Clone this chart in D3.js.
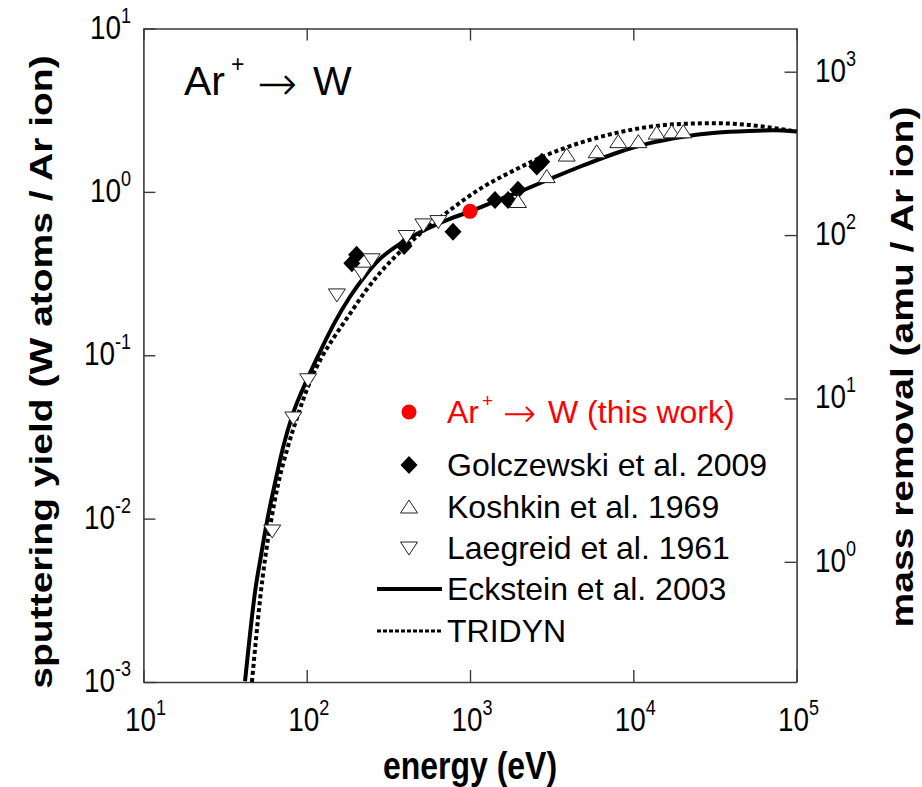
<!DOCTYPE html>
<html>
<head>
<meta charset="utf-8">
<script src="https://cdn.jsdelivr.net/npm/d3@7"></script>
<style>
  body { margin: 0; background: #fff; }
  text { font-family: "Liberation Sans", Arial, Helvetica, sans-serif; }
  .arrow { font-family: "DejaVu Sans", sans-serif; font-weight: 200; }
</style>
</head>
<body>
<svg id="chart" width="922" height="787"></svg>
<script>
// ---- data: Ar+ -> W sputtering yield vs ion energy ----
const thisWorkEnergy = [1000];
const thisWorkYield  = [0.76];

const golczewskiEnergy = [189, 202, 395, 787, 1422, 1710, 1968, 2563, 2750];
const golczewskiYield  = [0.366, 0.412, 0.467, 0.571, 0.893, 0.893, 1.03, 1.43, 1.53];

const koshkinEnergy = [1968, 2950, 3910, 5970, 8090, 10740, 13900, 17180, 20240];
const koshkinYield  = [0.873, 1.24, 1.68, 1.76, 2.03, 2.03, 2.29, 2.33, 2.33];

const laegreidEnergy = [61.5, 82.8, 102, 153, 217, 250, 409, 518, 640];
const laegreidYield  = [0.0084, 0.0413, 0.0708, 0.234, 0.318, 0.384, 0.533, 0.628, 0.658];

const ecksteinEnergy = [41.9, 45.0, 48.3, 52.5, 57.1, 63.1, 71.6, 82.4, 100.4, 120.6, 149.1, 184.1,
  227.5, 281.2, 372.7, 530, 754, 1000, 1527, 1967, 3090, 4920, 7876, 12410, 19760, 31920, 50830, 72300, 100000];
const ecksteinYield  = [0.00101, 0.00198, 0.00358, 0.00594, 0.00959, 0.0155, 0.0272, 0.0439, 0.0709, 0.105,
  0.160, 0.228, 0.306, 0.389, 0.481, 0.586, 0.684, 0.758, 0.900, 0.993, 1.20, 1.45, 1.73, 1.98, 2.17, 2.30, 2.36, 2.38, 2.34];

const tridynEnergy = [46.2, 48.9, 51.8, 55.5, 60.4, 66.7, 75.8, 88.5, 104.8, 124.1, 149.1, 184.1, 227.5,
  281.2, 372.7, 494, 703, 1151, 1834, 2961, 4920, 7876, 12410, 19760, 31920, 50830, 80960, 100000];
const tridynYield  = [0.001, 0.00182, 0.0032, 0.00561, 0.00959, 0.0161, 0.0264, 0.0433, 0.0689, 0.0979,
  0.1316, 0.1794, 0.2445, 0.3196, 0.4295, 0.5535, 0.7333, 1.043, 1.344, 1.684, 2.022, 2.296, 2.498, 2.606,
  2.632, 2.570, 2.418, 2.34];

// tick labels (exponents of ten)
const xTickExponents = ["1", "2", "3", "4", "5"];
const yTickExponents = ["-3", "-2", "-1", "0", "1"];
const y2TickExponents = ["0", "1", "2", "3"];

const tungstenMass = 183.84; // amu per W atom, converts yield to mass removal

// ---- layout ----
const svg = d3.select("#chart");
const plotLeft = 143.4, plotRight = 796.6, plotTop = 28.5, plotBottom = 682;
const squeeze = 0.82; // axis text is set narrow

const x = d3.scaleLog().domain([10, 1e5]).range([plotLeft, plotRight]);
const y = d3.scaleLog().domain([1e-3, 10]).range([plotBottom, plotTop]);
const y2 = d3.scaleLog().domain([1e-3 * tungstenMass, 10 * tungstenMass]).range([plotBottom, plotTop]);

const zip = (es, ys) => es.map((e, i) => ({ e, y: ys[i] }));

const isDecade = v => Math.abs(Math.log10(v) - Math.round(Math.log10(v))) < 1e-9;
const majors = s => s.ticks().filter(isDecade);
const minors = s => s.ticks().filter(v => !isDecade(v));

const axisColor = "#3a3a3a";

function drawAxis(gen, scale, transform) {
  const g = svg.append("g").attr("transform", transform);
  g.call(gen(scale).tickValues(minors(scale)).tickSizeInner(-6).tickSizeOuter(0).tickFormat(""));
  g.call(gen(scale).tickValues(majors(scale)).tickSizeInner(-12).tickSizeOuter(0).tickFormat(""));
  g.selectAll("path.domain").attr("stroke", axisColor).attr("stroke-width", 1.6);
  g.selectAll("line").attr("stroke", axisColor).attr("stroke-width", 1.4);
  return g;
}
drawAxis(d3.axisBottom, x, `translate(0,${plotBottom})`);
drawAxis(d3.axisTop, x, `translate(0,${plotTop})`);
drawAxis(d3.axisLeft, y, `translate(${plotLeft},0)`);
drawAxis(d3.axisRight, y2, `translate(${plotRight},0)`);

// narrow text anchored at (px, py)
function narrowText(px, py, extra = "") {
  return svg.append("g").attr("transform", `translate(${px},${py}) scale(${squeeze},1) ${extra}`)
    .append("text").attr("x", 0).attr("y", 0).attr("fill", "#000");
}

// power-of-ten labels with superscript exponents
const labelSize = 34;
function powLabel(sel, exp) {
  sel.attr("font-size", labelSize);
  sel.append("tspan").text("10");
  sel.append("tspan").attr("font-size", 22).attr("dy", -16).text(exp);
}

majors(x).forEach((v, i) => {
  powLabel(narrowText(x(v) + 2, 731).attr("text-anchor", "middle"), xTickExponents[i]);
});
majors(y).forEach((v, i) => {
  powLabel(narrowText(131, y(v) + 10).attr("text-anchor", "end"), yTickExponents[i]);
});
majors(y2).forEach((v, i) => {
  powLabel(narrowText(815, y2(v) + 10).attr("text-anchor", "start"), y2TickExponents[i]);
});

// axis titles
const titleSize = 39;
narrowText((plotLeft + plotRight) / 2, 779).attr("text-anchor", "middle")
  .attr("font-size", titleSize).attr("font-weight", "bold").text("energy (eV)");
narrowText(52, 372, "rotate(-90)").attr("text-anchor", "middle")
  .attr("font-size", titleSize).attr("font-weight", "bold")
  .text("sputtering yield (W atoms / Ar ion)");
narrowText(913, 367, "rotate(-90)").attr("text-anchor", "middle")
  .attr("font-size", titleSize).attr("font-weight", "bold")
  .text("mass removal (amu / Ar ion)");

// panel title: Ar+ -> W
const title = svg.append("text").attr("font-size", 41).attr("fill", "#000");
title.append("tspan").attr("x", 184).attr("y", 95).text("Ar");
title.append("tspan").attr("x", 231).attr("y", 72).attr("font-size", 23).text("+");
title.append("tspan").attr("class", "arrow").attr("x", 257).attr("y", 100).attr("font-size", 48).text("\u2192");
title.append("tspan").attr("x", 313).attr("y", 95).text("W");

// ---- curves ----
const plot = svg.append("g");
const line = d3.line().x(d => x(d.e)).y(d => y(d.y)).curve(d3.curveMonotoneX);

plot.append("path").datum(zip(ecksteinEnergy, ecksteinYield))
  .attr("d", line).attr("fill", "none").attr("stroke", "#000").attr("stroke-width", 4);
plot.append("path").datum(zip(tridynEnergy, tridynYield))
  .attr("d", line).attr("fill", "none").attr("stroke", "#000").attr("stroke-width", 4)
  .attr("stroke-dasharray", "4,3");

// ---- markers ----
const diamond = "M0,-9L8.5,0L0,9L-8.5,0Z";
const upTri = "M0,-7L8.5,6L-8.5,6Z";
const downTri = "M0,7L8.5,-6L-8.5,-6Z";

plot.selectAll("path.golczewski").data(zip(golczewskiEnergy, golczewskiYield)).join("path")
  .attr("class", "golczewski").attr("d", diamond)
  .attr("transform", d => `translate(${x(d.e)},${y(d.y)})`).attr("fill", "#000");
plot.selectAll("path.koshkin").data(zip(koshkinEnergy, koshkinYield)).join("path")
  .attr("class", "koshkin").attr("d", upTri)
  .attr("transform", d => `translate(${x(d.e)},${y(d.y)})`)
  .attr("fill", "#fff").attr("stroke", "#222").attr("stroke-width", 1);
plot.selectAll("path.laegreid").data(zip(laegreidEnergy, laegreidYield)).join("path")
  .attr("class", "laegreid").attr("d", downTri)
  .attr("transform", d => `translate(${x(d.e)},${y(d.y)})`)
  .attr("fill", "#fff").attr("stroke", "#222").attr("stroke-width", 1);
plot.selectAll("circle.thiswork").data(zip(thisWorkEnergy, thisWorkYield)).join("circle")
  .attr("class", "thiswork").attr("cx", d => x(d.e)).attr("cy", d => y(d.y)).attr("r", 7.5)
  .attr("fill", "#ff0000");

// ---- legend ----
const lg = svg.append("g");
const lx = 409, tx = 447, rowY = [412, 465, 507, 548, 589, 631];
lg.append("circle").attr("cx", lx).attr("cy", rowY[0]).attr("r", 7.5).attr("fill", "#ff0000");
lg.append("path").attr("d", diamond).attr("transform", `translate(${lx},${rowY[1]})`).attr("fill", "#000");
lg.append("path").attr("d", upTri).attr("transform", `translate(${lx},${rowY[2]})`)
  .attr("fill", "#fff").attr("stroke", "#222").attr("stroke-width", 1);
lg.append("path").attr("d", downTri).attr("transform", `translate(${lx},${rowY[3]})`)
  .attr("fill", "#fff").attr("stroke", "#222").attr("stroke-width", 1);
lg.append("line").attr("x1", 377).attr("x2", 442).attr("y1", rowY[4]).attr("y2", rowY[4])
  .attr("stroke", "#000").attr("stroke-width", 4);
lg.append("line").attr("x1", 377).attr("x2", 442).attr("y1", rowY[5]).attr("y2", rowY[5])
  .attr("stroke", "#000").attr("stroke-width", 3).attr("stroke-dasharray", "4,2");

const legendSize = 32;
const baseY = rowY[0] + 11;
const first = lg.append("text").attr("font-size", legendSize).attr("fill", "#ff0000");
first.append("tspan").attr("x", tx).attr("y", baseY).text("Ar");
first.append("tspan").attr("x", tx + 35).attr("y", baseY - 16).attr("font-size", 19).text("+");
first.append("tspan").attr("class", "arrow").attr("x", tx + 56).attr("y", baseY + 4).attr("font-size", 40).text("\u2192");
first.append("tspan").attr("x", tx + 101).attr("y", baseY).text("W (this work)");
["Golczewski et al. 2009", "Koshkin et al. 1969", "Laegreid et al. 1961", "Eckstein et al. 2003", "TRIDYN"]
  .forEach((s, i) => {
    lg.append("text").attr("x", tx).attr("y", rowY[i + 1] + 11).attr("font-size", legendSize)
      .attr("fill", "#000").text(s);
  });
</script>
</body>
</html>
